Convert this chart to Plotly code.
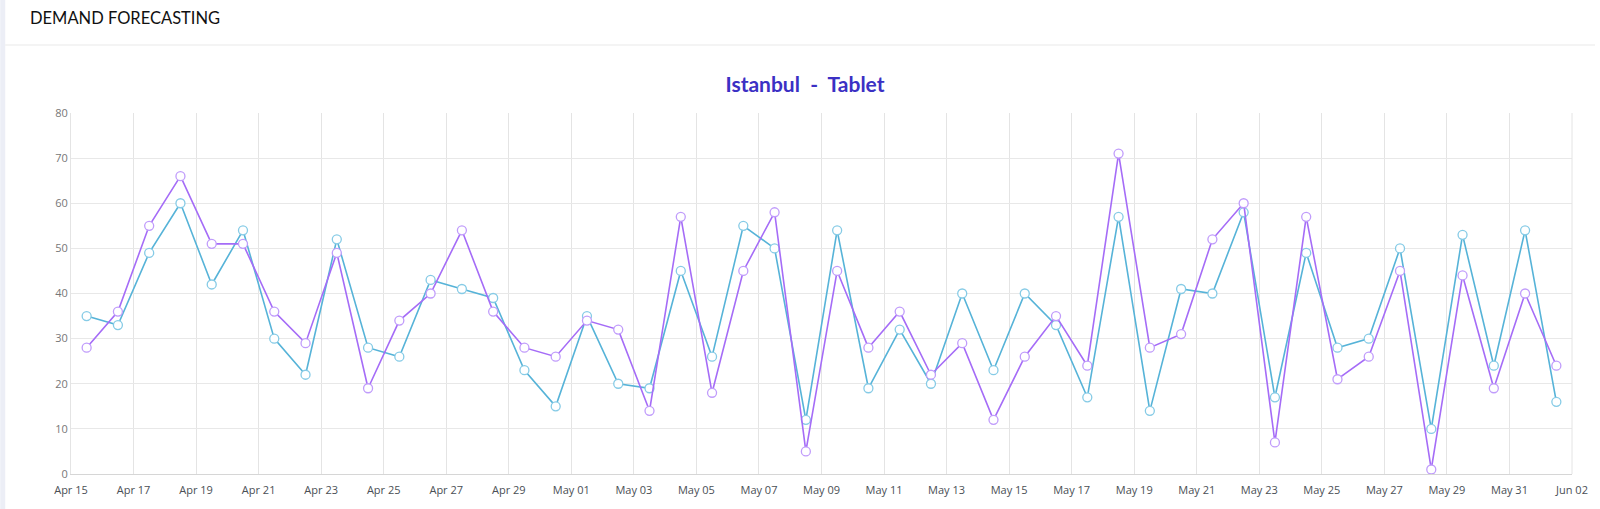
import pandas as pd
import plotly.graph_objects as go

# ---- data ----
start_day = "2024-04-15 12:00"
n_days = 48
series_teal = [35, 33, 49, 60, 42, 54, 30, 22, 52, 28, 26, 43, 41, 39, 23, 15,
               35, 20, 19, 45, 26, 55, 50, 12, 54, 19, 32, 20, 40, 23, 40, 33,
               17, 57, 14, 41, 40, 58, 17, 49, 28, 30, 50, 10, 53, 24, 54, 16]
series_purple = [28, 36, 55, 66, 51, 51, 36, 29, 49, 19, 34, 40, 54, 36, 28, 26,
                 34, 32, 14, 57, 18, 45, 58, 5, 45, 28, 36, 22, 29, 12, 26, 35,
                 24, 71, 28, 31, 52, 60, 7, 57, 21, 26, 45, 1, 44, 19, 40, 24]
y_ticks = [0, 10, 20, 30, 40, 50, 60, 70, 80]
x_range = ["2024-04-15", "2024-06-02"]
title_text = "Istanbul  -  Tablet"
header_text = "DEMAND FORECASTING"

dates = pd.date_range(start_day, periods=n_days, freq="D")

TEAL = "#56b3d8"
PURPLE = "#a56cf7"

fig = go.Figure()
fig.add_trace(go.Scatter(
    x=dates, y=series_teal, mode="lines+markers", name="Actual",
    line=dict(color=TEAL, width=1.6),
    marker=dict(size=9, color="white", line=dict(color="#86cbe6", width=1.3)),
))
fig.add_trace(go.Scatter(
    x=dates, y=series_purple, mode="lines+markers", name="Forecast",
    line=dict(color=PURPLE, width=1.6),
    marker=dict(size=9, color="white", line=dict(color="#c09cfb", width=1.3)),
))

L, R, T, B = 71, 23, 113, 35
W, H = 1600, 509
pw = W - L - R
ph = H - T - B

def px_x(p):
    return (p - L) / pw

def px_y(p):
    return (H - B - p) / ph

fig.update_layout(
    width=W, height=H,
    margin=dict(l=L, r=R, t=T, b=B),
    paper_bgcolor="white", plot_bgcolor="white",
    showlegend=False,
    title=dict(text="<b>" + title_text + "</b>", x=805 / W, xanchor="center",
               xref="container", y=1 - 85 / H, yref="container", yanchor="middle",
               font=dict(family="Lato, Noto Sans, sans-serif", size=21, color="#3b30c4")),
    xaxis=dict(
        type="date", range=x_range, tick0="2024-04-15", dtick=2 * 86400000,
        tickformat="%b %d", showgrid=True, gridcolor="#e4e4e4", gridwidth=1,
        showline=True, linecolor="#d6d6d6", linewidth=1, ticks="",
        ticklabelstandoff=6,
        tickfont=dict(family="Open Sans, sans-serif", size=11, color="#4a4f55"),
        zeroline=False,
    ),
    yaxis=dict(
        range=[0, 80], tickvals=y_ticks, showgrid=True, gridcolor="#e8e8e8",
        showline=True, linecolor="#e4e4e4", ticks="", zeroline=False,
        tickfont=dict(family="Open Sans, sans-serif", size=11, color="#777777"),
    ),
    shapes=[
        dict(type="rect", xref="paper", yref="paper", x0=px_x(0), x1=px_x(5),
             y0=px_y(H), y1=px_y(0), fillcolor="#eceef6", line=dict(width=0), layer="below"),
        dict(type="line", xref="paper", yref="paper", x0=px_x(5), x1=px_x(W),
             y0=px_y(45), y1=px_y(45), line=dict(color="#f0f0f0", width=1.5)),
        dict(type="line", xref="paper", yref="paper", x0=1, x1=1, y0=0, y1=1,
             line=dict(color="#e4e4e4", width=1)),
    ],
    annotations=[
        dict(text=header_text, xref="paper", yref="paper", x=px_x(28), y=px_y(18),
             xanchor="left", yanchor="middle", showarrow=False,
             font=dict(family="Lato, Noto Sans, sans-serif", size=16.5, color="#111111")),
    ],
)

fig.write_html(
    "out.html",
    config={"displayModeBar": False},
    post_script="document.body.style.margin='0';document.body.style.overflow='hidden';",
)
